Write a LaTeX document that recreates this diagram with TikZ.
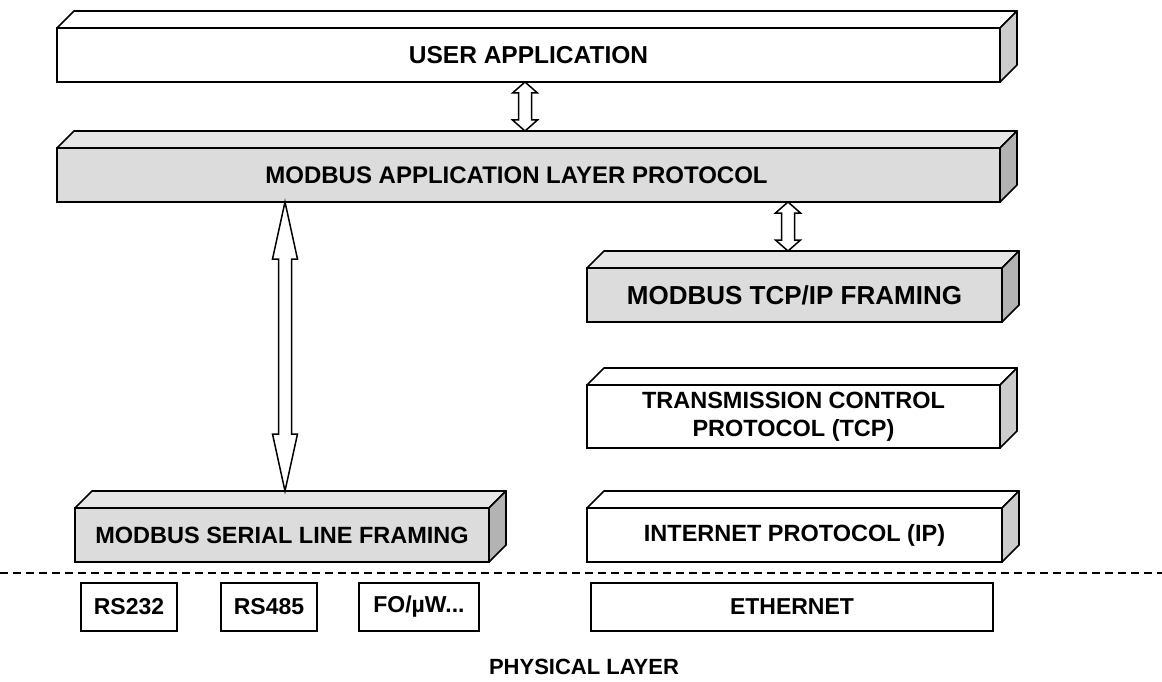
\documentclass[tikz,border=0pt]{standalone}
\usepackage{fontspec}
\setmainfont{Liberation Sans}
\usetikzlibrary{calc}
\definecolor{slabgrey}{HTML}{DCDCDC}
\definecolor{slabtop}{HTML}{E6E6E6}
\definecolor{slabside}{HTML}{B3B3B3}
\definecolor{plainside}{HTML}{CCCCCC}
\tikzset{
  slab/.style={draw=black, fill=#1, line width=1.7pt, outer sep=0pt, inner sep=0pt,
               minimum height=54pt, align=center,
               font=\fontsize{23.5}{28}\selectfont\bfseries},
  facebox/.style={draw=black, fill=#1, line width=1.7pt, line join=round},
  physbox/.style={draw=black, fill=white, line width=1.7pt, outer sep=0pt, inner sep=0pt,
                  minimum height=48pt, font=\fontsize{23}{27}\selectfont\bfseries},
  blockarr/.style={draw=black, fill=white, line width=1.5pt, line join=miter},
  layerline/.style={line width=1.5pt, dash pattern=on 8pt off 5pt},
}
% top and right faces of a layer slab
\newcommand\slabfaces[3]{%
  \draw[facebox=#2] (#1.north west) -- ++(17,17) -- ($(#1.north east)+(17,17)$) -- (#1.north east) -- cycle;
  \draw[facebox=#3] (#1.north east) -- ++(17,17) -- ($(#1.south east)+(17,17)$) -- (#1.south east) -- cycle;
}
% hollow double arrow: head length, upper end, lower end
\newcommand\dblarrow[3]{%
  \draw[blockarr] (#2) -- ++(12.5,-#1) -- ++(-6,0) -- ($(#2 |- #3)+(6.5,#1)$) -- ++(6,0)
    -- (#2 |- #3) -- ++(-12.5,#1) -- ++(6,0) -- ($(#2)+(-6.5,-#1)$) -- ++(-6,0) -- cycle;
}

\begin{document}
\begin{tikzpicture}[x=1pt, y=1pt]
  \useasboundingbox (0,0) rectangle (1162,-682);

  % protocol layers
  \node[slab=white, minimum width=943pt, font=\fontsize{24.5}{28}\selectfont\bfseries]
    (user) at (528.5,-55) {USER APPLICATION};
  \slabfaces{user}{white}{plainside}
  \node[slab=slabgrey, minimum width=943pt, font=\fontsize{24}{28}\selectfont\bfseries]
    (app) at (528.5,-175) {\hspace*{-24pt}MODBUS APPLICATION LAYER PROTOCOL};
  \slabfaces{app}{slabtop}{slabside}
  \node[slab=slabgrey, minimum width=415pt, font=\fontsize{26}{28}\selectfont\bfseries]
    (tcpip) at (794.5,-295) {MODBUS TCP/IP FRAMING};
  \slabfaces{tcpip}{slabtop}{slabside}
  \node[slab=white, minimum width=413pt, minimum height=63pt] (tcp) at (793.5,-416.5)
    {TRANSMISSION CONTROL\\PROTOCOL (TCP)};
  \slabfaces{tcp}{white}{plainside}
  \node[slab=white, minimum width=415pt]    (ip)     at (794.5,-535) {INTERNET PROTOCOL (IP)};
  \slabfaces{ip}{white}{plainside}
  \node[slab=slabgrey, minimum width=414pt] (serial) at (282,-535)   {MODBUS SERIAL LINE FRAMING};
  \slabfaces{serial}{slabtop}{slabside}

  % arrows between layers
  \coordinate (ua) at ($(user.south)+(-3.5,0)$);
  \coordinate (ab) at ($(app.north)+(0,17)$);
  \dblarrow{11}{ua}{ab}
  \coordinate (tb) at ($(tcpip.north)+(-6.5,17)$);
  \coordinate (at) at (app.south -| tb);
  \dblarrow{11}{at}{tb}
  \coordinate (sb) at ($(serial.north)+(3,17)$);
  \coordinate (as) at (app.south -| sb);
  \dblarrow{57}{as}{sb}

  % physical layer
  \draw[layerline] (0,-573) -- (1162,-573);
  \node[physbox, minimum width=96pt]  (rs232) at (129,-607) {RS232};
  \node[physbox, minimum width=96pt]  (rs485) at (269,-607) {RS485};
  \node[physbox, minimum width=120pt] (fo)    at (419,-607) {FO/µW...};
  \node[physbox, minimum width=402pt] (eth)   at (792,-607) {ETHERNET};
  \node[font=\fontsize{22}{26}\selectfont\bfseries] (phys) at (584,-667) {PHYSICAL LAYER};
\end{tikzpicture}
\end{document}
